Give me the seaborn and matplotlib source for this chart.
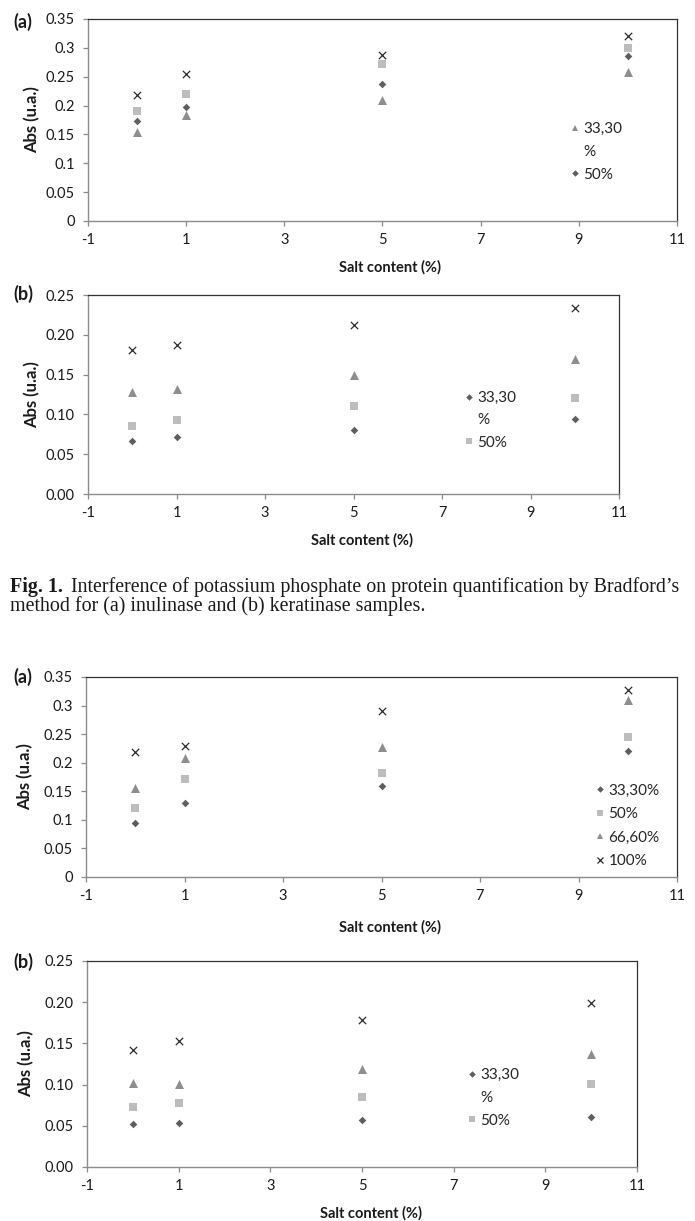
import matplotlib
matplotlib.use('Agg')
import matplotlib.pyplot as plt
import seaborn as sns
import pandas as pd
from matplotlib.lines import Line2D

# salt content (%) on the x axis, same for every panel
salt = [0, 1, 5, 10]
series = ['33,30%', '50%', '66,60%', '100%']

# Fig. 1 (a) inulinase
f1a_333 = [0.174, 0.198, 0.237, 0.286]
f1a_50 = [0.191, 0.220, 0.272, 0.300]
f1a_666 = [0.154, 0.184, 0.210, 0.258]
f1a_100 = [0.218, 0.254, 0.288, 0.321]

# Fig. 1 (b) keratinase
f1b_333 = [0.0666, 0.0716, 0.0804, 0.0946]
f1b_50 = [0.085, 0.0925, 0.110, 0.121]
f1b_666 = [0.128, 0.132, 0.1495, 0.169]
f1b_100 = [0.181, 0.187, 0.212, 0.234]

# Fig. 2 (a) inulinase
f2a_333 = [0.094, 0.129, 0.159, 0.220]
f2a_50 = [0.120, 0.1715, 0.1826, 0.245]
f2a_666 = [0.156, 0.209, 0.2275, 0.310]
f2a_100 = [0.219, 0.230, 0.291, 0.327]

# Fig. 2 (b) keratinase
f2b_333 = [0.0522, 0.053, 0.0574, 0.0607]
f2b_50 = [0.0724, 0.078, 0.0854, 0.101]
f2b_666 = [0.102, 0.101, 0.1185, 0.1367]
f2b_100 = [0.142, 0.1525, 0.178, 0.199]

xticks = [-1, 1, 3, 5, 7, 9, 11]
yticks_a = [0, 0.05, 0.1, 0.15, 0.2, 0.25, 0.3, 0.35]
ytick_labels_a = ['0', '0.05', '0.1', '0.15', '0.2', '0.25', '0.3', '0.35']
yticks_b = [0, 0.05, 0.10, 0.15, 0.20, 0.25]
ytick_labels_b = ['0.00', '0.05', '0.10', '0.15', '0.20', '0.25']

caption_bold = 'Fig. 1.'
caption_line1 = 'Interference of potassium phosphate on protein quantification by Bradford\u2019s'
caption_line2 = 'method for (a) inulinase and (b) keratinase samples.'

markers = {'33,30%': 'D', '50%': 's', '66,60%': '^', '100%': 'x'}
colors = {'33,30%': '#5e5e5e', '50%': '#bdbdbd', '66,60%': '#8e8e8e', '100%': '#2a2a2a'}
sizes = {'33,30%': 15, '50%': 32, '66,60%': 42, '100%': 28}
leg_sizes = {'33,30%': 3.3, '50%': 4.6, '66,60%': 4.8, '100%': 4.8}

sns.set_style('ticks')
plt.rcParams['font.family'] = ['Lato', 'DejaVu Sans']

W, H = 695, 1221
fig = plt.figure(figsize=(W / 100, H / 100), dpi=100)


def make_df(vals):
    rows = []
    for name, v in zip(series, vals):
        for x, y in zip(salt, v):
            rows.append({'salt': x, 'abs': y, 'series': name})
    return pd.DataFrame(rows)


def draw_panel(rect, vals, yticks, ylabels, tag, tag_y, ylab_x, xlab_xy, legend_spec):
    l, t, r, b = rect
    ax = fig.add_axes([l / W, 1 - b / H, (r - l) / W, (b - t) / H])
    df = make_df(vals)
    for name in series:
        sub = df[df['series'] == name]
        if markers[name] == 'x':
            sns.scatterplot(data=sub, x='salt', y='abs', marker='x', color=colors[name],
                            s=sizes[name], linewidth=0.9, ax=ax)
        else:
            sns.scatterplot(data=sub, x='salt', y='abs', marker=markers[name], color=colors[name],
                            s=sizes[name], linewidth=0, ax=ax)
    ax.set_xlim(-1, 11)
    ax.set_ylim(0, yticks[-1])
    ax.set_xticks(xticks)
    ax.set_xticklabels([str(v) for v in xticks])
    ax.set_yticks(yticks)
    ax.set_yticklabels(ylabels)
    ax.tick_params(axis='both', labelsize=10.5, colors='#8c8c8c', labelcolor='#1a1a1a',
                   length=3.5, width=0.9, direction='out')
    ax.tick_params(axis='x', pad=5)
    ax.tick_params(axis='y', pad=6)
    for side in ['left', 'bottom']:
        ax.spines[side].set_color('#8c8c8c')
        ax.spines[side].set_linewidth(1.0)
    for side in ['top', 'right']:
        ax.spines[side].set_color('#333333')
        ax.spines[side].set_linewidth(0.9)
        ax.spines[side].set_visible(True)

    ax.set_xlabel('Salt content (%)', fontsize=10.5, fontweight='bold', color='#1a1a1a')
    ax.set_ylabel('Abs (u.a.)', fontsize=12, fontweight='bold', color='#1a1a1a')
    ax.xaxis.set_label_coords((xlab_xy[0] - l) / (r - l), (b - xlab_xy[1]) / (b - t))
    ax.xaxis.label.set_va('center')
    ax.yaxis.set_label_coords((ylab_x - l) / (r - l), 0.5)
    ax.yaxis.label.set_va('center')

    fig.text(13 / W, 1 - tag_y / H, tag, fontsize=13, fontweight='bold',
             ha='left', va='center', color='#1a1a1a')

    # excel-style legend, labels wrapped as in the original
    mx, row_first, row_last, entries = legend_spec
    handles, labels = [], []
    for name, text in entries:
        if name is None:
            handles.append(Line2D([], [], linestyle='none'))
        else:
            handles.append(Line2D([], [], linestyle='none', marker=markers[name],
                                  color=colors[name], markersize=leg_sizes[name],
                                  markeredgewidth=0 if markers[name] != 'x' else 0.9))
        labels.append(text)
    fs_pt = 11
    fs_px = fs_pt * 100 / 72
    hl = 0.6
    n = len(entries)
    spacing_px = (row_last - row_first) / (n - 1)
    ax.legend(handles, labels, loc='center left', frameon=False, fontsize=fs_pt,
              handlelength=hl, handletextpad=0.25, borderpad=0, borderaxespad=0,
              labelspacing=(spacing_px - 0.94 * fs_px) / fs_px,
              bbox_to_anchor=((mx - hl * fs_px / 2) / W, 1 - (row_first + row_last) / 2 / H),
              bbox_transform=fig.transFigure)
    return ax


draw_panel((88, 19, 677, 221), [f1a_333, f1a_50, f1a_666, f1a_100], yticks_a, ytick_labels_a,
           '(a)', 22, 32, (390, 267),
           (575, 129, 175, [('66,60%', '33,30'), (None, '%'), ('33,30%', '50%')]))
draw_panel((88, 295, 619, 494), [f1b_333, f1b_50, f1b_666, f1b_100], yticks_b, ytick_labels_b,
           '(b)', 294, 32, (362, 540),
           (469, 398, 443, [('33,30%', '33,30'), (None, '%'), ('50%', '50%')]))
draw_panel((86, 677, 677, 877), [f2a_333, f2a_50, f2a_666, f2a_100], yticks_a, ytick_labels_a,
           '(a)', 677, 25, (390, 927),
           (600, 790, 862, [('33,30%', '33,30%'), ('50%', '50%'), ('66,60%', '66,60%'), ('100%', '100%')]))
draw_panel((87, 961, 637, 1167), [f2b_333, f2b_50, f2b_666, f2b_100], yticks_b, ytick_labels_b,
           '(b)', 962, 26, (371, 1213),
           (472, 1075, 1121, [('33,30%', '33,30'), (None, '%'), ('50%', '50%')]))

# caption between the two figures
cap_font = ['Liberation Serif', 'DejaVu Serif']
cap_size = 14.4
t_bold = fig.text(10 / W, 1 - 587 / H, caption_bold, fontsize=cap_size, fontweight='bold',
                  family=cap_font, ha='left', va='center', color='#1a1a1a')
renderer = fig.canvas.get_renderer()
bb = t_bold.get_window_extent(renderer)
fig.text((bb.x1 + 8) / W, 1 - 587 / H, caption_line1, fontsize=cap_size, family=cap_font,
         ha='left', va='center', color='#1a1a1a')
fig.text(10 / W, 1 - 606 / H, caption_line2, fontsize=cap_size, family=cap_font,
         ha='left', va='center', color='#1a1a1a')

fig.savefig('out.png', dpi=100)
